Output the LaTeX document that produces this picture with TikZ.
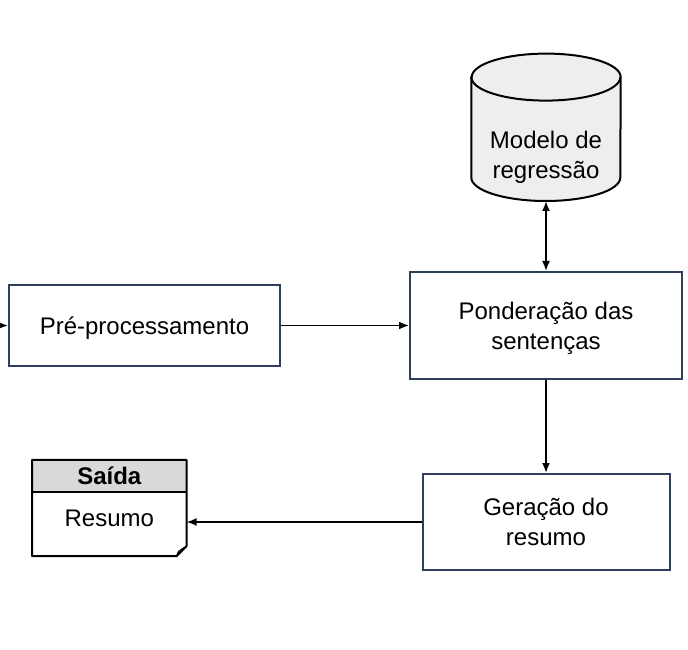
\documentclass[tikz,border=0pt]{standalone}
\usepackage{fontspec}
\setmainfont{Liberation Sans}
\usetikzlibrary{arrows.meta,positioning}

\definecolor{boxedge}{RGB}{47,62,90}
\definecolor{dbfill}{RGB}{238,238,238}
\definecolor{headfill}{RGB}{217,217,217}

\newcommand{\lowtext}[2]{\raisebox{-#1}[\height][\depth]{\begin{tabular}{@{}c@{}}#2\end{tabular}}}

\tikzset{
  step box/.style={draw=boxedge, line width=2pt, align=center,
    font=\fontsize{24}{30}\selectfont},
  plain text/.style={font=\fontsize{24}{30}\selectfont, align=center},
  link/.style={line width=1.8pt, -{Latex[length=10pt,width=8pt]}},
}

\begin{document}
\begin{tikzpicture}[x=1pt,y=1pt,node distance=70pt]
  \useasboundingbox (0,0) rectangle (688,649);

  \node[step box, minimum width=272pt, minimum height=107pt] (pond) at (546,323.5)
        {\lowtext{3pt}{Ponderação das\\sentenças}};
  \node[step box, minimum width=271pt, minimum height=81pt] (pre) [left=128pt of pond]
        {\lowtext{3pt}{Pré-processamento}};
  \node[minimum width=149pt, minimum height=147pt, inner sep=0pt] (model) [above=70pt of pond] {};
  \node[step box, minimum width=247pt, minimum height=96pt] (ger) [below=93pt of pond]
        {Geração do\\resumo};
  \node[minimum width=154pt, minimum height=96pt, inner sep=0pt] (out)
        [left=235pt of ger, yshift=14pt] {};
  \coordinate[left=12pt of pre] (src);

  % modelo (banco de dados)
  \draw[line width=2pt, fill=dbfill] ([yshift=-23.5pt]model.north west)
        -- ([yshift=23.5pt]model.south west)
        arc[start angle=180, end angle=360, x radius=74.5pt, y radius=23.5pt]
        -- ([yshift=-23.5pt]model.north east)
        arc[start angle=0, end angle=180, x radius=74.5pt, y radius=23.5pt] -- cycle;
  \draw[line width=2pt] ([yshift=-23.5pt]model.north west)
        arc[start angle=180, end angle=360, x radius=74.5pt, y radius=23.5pt];
  \node[plain text] (modeltext) at ([yshift=-30pt]model.center) {Modelo de\\regressão};

  % saida (documento)
  \fill[headfill] (out.north west) rectangle ([yshift=-32pt]out.north east);
  \draw[line width=2pt, line join=round] (out.north west) -- (out.north east)
        -- ([yshift=10pt]out.south east) -- ([xshift=-10pt]out.south east)
        -- (out.south west) -- cycle;
  \draw[line width=2pt] ([yshift=-32pt]out.north west) -- ([yshift=-32pt]out.north east);
  \draw[line width=1.2pt] ([xshift=-10pt]out.south east) .. controls ([xshift=-8pt,yshift=5pt]out.south east)
        .. ([xshift=-5pt,yshift=7pt]out.south east) -- ([yshift=10pt]out.south east);
  \node[plain text, font=\bfseries\fontsize{24}{30}\selectfont] (outhead) at ([yshift=-16pt]out.north) {Saída};
  \node[plain text] (outbody) at ([yshift=-59pt]out.north) {Resumo};

  \draw[link] (src) -- (pre);
  \draw[link] (pre) -- (pond);
  \draw[link, {Latex[length=10pt,width=8pt]}-{Latex[length=10pt,width=8pt]}] (model) -- (pond);
  \draw[link] (pond) -- (ger);
  \draw[link] (ger.west) -- (ger.west -| out.east);
\end{tikzpicture}
\end{document}
